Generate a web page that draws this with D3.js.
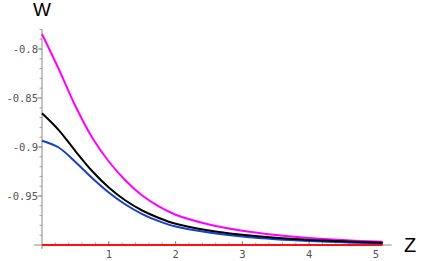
<!DOCTYPE html>
<html><head><meta charset="utf-8">
<script src="https://cdn.jsdelivr.net/npm/d3@7"></script>
<style>html,body{margin:0;padding:0;background:#fff;overflow:hidden}</style>
</head><body>
<svg id="c" width="422" height="261"></svg>
<script>
const zValues = [0, 0.25, 0.5, 0.75, 1, 1.25, 1.5, 1.75, 2, 2.5, 3, 3.5, 4, 4.5, 5, 5.1];
const magentaW = [-0.7847, -0.8204, -0.8582, -0.8903, -0.9148, -0.9342, -0.9495, -0.9607, -0.9691, -0.9790, -0.9854, -0.9898, -0.9929, -0.9950, -0.9965, -0.9967];
const blackW   = [-0.8656, -0.8827, -0.9041, -0.9245, -0.9413, -0.9546, -0.9648, -0.9724, -0.9783, -0.9852, -0.9896, -0.9927, -0.9948, -0.9963, -0.9974, -0.9977];
const blueW    = [-0.8936, -0.9005, -0.9153, -0.9316, -0.9464, -0.9587, -0.9684, -0.9757, -0.9812, -0.9873, -0.9914, -0.9942, -0.9960, -0.9972, -0.9982, -0.9983];
const redW     = zValues.map(() => -1);
const xTicks = [1, 2, 3, 4, 5];
const xTickLabels = ["1", "2", "3", "4", "5"];
const yTicks = [-0.8, -0.85, -0.9, -0.95];
const yTickLabels = ["-0.8", "-0.85", "-0.9", "-0.95"];

const svg = d3.select("#c");
const x = d3.scaleLinear().domain([0, 5]).range([42, 376]);
const y = d3.scaleLinear().domain([-1, -0.8]).range([245, 49]);
const axisColor = "#8a8a8a";
const labelFont = "'DejaVu Sans Mono', monospace";

// axes lines
svg.append("line").attr("x1", x(0) - 8).attr("x2", x(5.235)).attr("y1", y(-1)).attr("y2", y(-1))
  .attr("stroke", axisColor).attr("stroke-width", 1);
svg.append("line").attr("x1", x(0)).attr("x2", x(0)).attr("y1", y(-1) + 4).attr("y2", y(-0.7796))
  .attr("stroke", axisColor).attr("stroke-width", 1);

// y ticks
const yMinor = d3.range(-99, -77).map(v => v / 100);
svg.append("g").selectAll("line").data(yMinor).join("line")
  .attr("x1", x(0) - 2.5).attr("x2", x(0)).attr("y1", d => y(d)).attr("y2", d => y(d))
  .attr("stroke", axisColor).attr("stroke-width", 0.8);
svg.append("g").selectAll("line").data(yTicks).join("line")
  .attr("x1", x(0) - 4.5).attr("x2", x(0)).attr("y1", d => y(d)).attr("y2", d => y(d))
  .attr("stroke", axisColor).attr("stroke-width", 1);
svg.append("g").selectAll("text").data(yTicks).join("text")
  .attr("x", 38).attr("y", d => y(d)).attr("dy", "0.36em").attr("text-anchor", "end")
  .attr("font-family", labelFont).attr("font-size", 10.5).attr("fill", "#555")
  .text((d, i) => yTickLabels[i]);

// x ticks
const xMinor = d3.range(1, 26).map(v => v / 5);
svg.append("g").selectAll("line").data(xMinor).join("line")
  .attr("x1", d => x(d)).attr("x2", d => x(d)).attr("y1", y(-1)).attr("y2", y(-1) - 2.5)
  .attr("stroke", axisColor).attr("stroke-width", 0.8);
svg.append("g").selectAll("line").data(xTicks).join("line")
  .attr("x1", d => x(d)).attr("x2", d => x(d)).attr("y1", y(-1)).attr("y2", y(-1) - 4)
  .attr("stroke", axisColor).attr("stroke-width", 1);
svg.append("g").selectAll("text").data(xTicks).join("text")
  .attr("x", d => x(d)).attr("y", 257.7).attr("text-anchor", "middle")
  .attr("font-family", labelFont).attr("font-size", 10.5).attr("fill", "#555")
  .text((d, i) => xTickLabels[i]);

// curves
const line = d3.line().x(d => x(d[0])).y(d => y(d[1])).curve(d3.curveCatmullRom.alpha(0.5));
const series = [
  {vals: redW, color: "#ff1010"},
  {vals: magentaW, color: "#ff00ff"},
  {vals: blueW, color: "#1540c8"},
  {vals: blackW, color: "#000000"}
];
series.forEach(s => {
  svg.append("path").datum(zValues.map((z, i) => [z, s.vals[i]]))
    .attr("d", line).attr("fill", "none").attr("stroke", s.color).attr("stroke-width", 2);
});

// axis labels
svg.append("text").attr("x", 42).attr("y", 16).attr("text-anchor", "middle")
  .attr("font-family", "'Liberation Sans', Arial, sans-serif").attr("font-size", 19).text("W");
svg.append("text").attr("x", 404).attr("y", 251.7)
  .attr("font-family", "'Liberation Sans', Arial, sans-serif").attr("font-size", 20).text("Z");
</script>
</body></html>
